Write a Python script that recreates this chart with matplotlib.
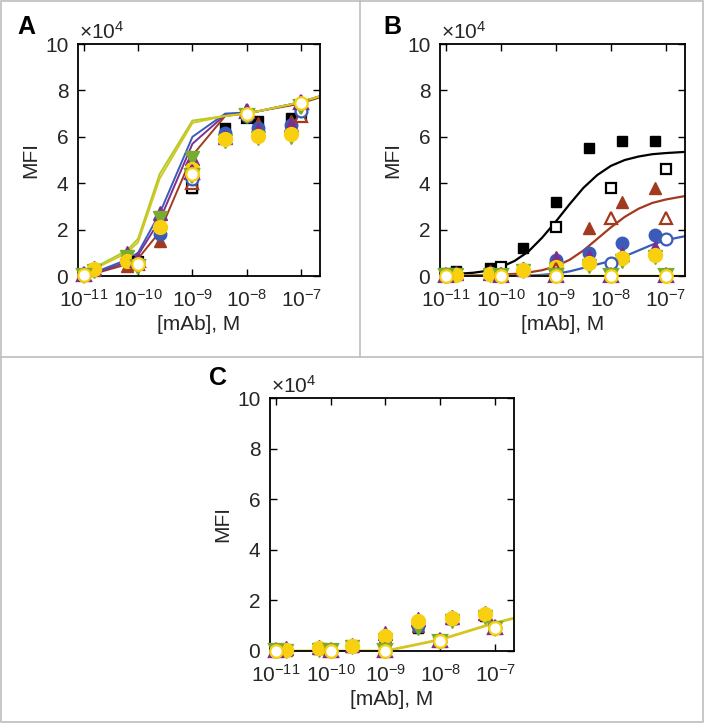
import numpy as np
import matplotlib.pyplot as plt
from matplotlib.lines import Line2D
from matplotlib.patches import Rectangle

plt.rcParams['font.family'] = ['Liberation Sans', 'DejaVu Sans']
plt.rcParams['mathtext.fontset'] = 'custom'
plt.rcParams['mathtext.rm'] = 'Liberation Sans'
plt.rcParams['mathtext.it'] = 'Liberation Sans'

# ---- concentrations (M) ----
x_filled = [1.5625e-11, 6.25e-11, 2.5e-10, 1e-9, 4e-9, 1.6e-8, 6.4e-8]
x_open = [1e-11, 1e-10, 1e-9, 1e-8, 1e-7]

# ---- colours ----
BLACK = '#000000'
BROWN = '#A23B1E'
BLUE = '#3A5BB8'
PURPLE = '#7E2F8E'
GREEN = '#77AC30'
YELLOW = '#F9D00F'
YLINE = '#D8C41E'
GLINE = '#A9CF2E'
TXT = '#262626'

# ---- panel A (MFI / 1e4) ----
a_black = [0.3, 0.7, 1.9, 3.8, 6.4, 6.7, 6.8]
a_brown = [0.25, 0.45, 1.5, 4.0, 6.1, 6.6, 6.7]
a_blue = [0.3, 0.7, 1.8, 4.3, 6.15, 6.4, 6.5]
a_purple = [0.35, 1.0, 2.7, 5.1, 6.0, 6.3, 6.5]
a_green = [0.2, 0.8, 2.5, 5.1, 5.8, 5.95, 6.0]
a_yellow = [0.3, 0.65, 2.1, 4.6, 5.9, 6.05, 6.1]
a_black_o = [0.05, 0.6, 3.8, 6.8, 7.0]
a_brown_o = [0.05, 0.5, 4.0, 7.1, 6.9]
a_blue_o = [0.05, 0.55, 4.2, 6.9, 7.1]
a_purple_o = [0.1, 0.7, 4.5, 7.1, 7.5]
a_green_o = [0.0, 0.4, 4.3, 6.9, 7.3]
a_yellow_o = [0.05, 0.5, 4.4, 7.0, 7.45]

a_fit_x = [1e-11, 1.5625e-11, 6.25e-11, 1e-10, 2.5e-10, 1e-9, 4e-9, 1e-8, 1.6e-8, 6.4e-8, 1e-7, 2.2e-7]
a_fit_brown = [0.03, 0.1, 0.5, 0.75, 1.9, 5.2, 6.9, 7.0, 7.1, 7.35, 7.45, 7.7]
a_fit_purple = [0.05, 0.12, 0.6, 0.9, 2.4, 5.7, 6.95, 7.0, 7.1, 7.4, 7.5, 7.75]
a_fit_blue = [0.05, 0.15, 0.7, 1.0, 2.7, 6.0, 7.0, 7.05, 7.1, 7.4, 7.5, 7.75]
a_fit_green = [0.1, 0.35, 1.1, 1.6, 4.4, 6.7, 6.9, 7.0, 7.1, 7.4, 7.5, 7.75]
a_fit_yellow = [0.1, 0.3, 1.0, 1.45, 4.2, 6.6, 6.9, 7.0, 7.1, 7.4, 7.5, 7.75]

# ---- panel B ----
b_black = [0.2, 0.35, 1.2, 3.2, 5.5, 5.8, 5.8]
b_brown = [0.15, 0.2, 0.35, 0.8, 2.05, 3.2, 3.8]
b_blue = [0.1, 0.15, 0.25, 0.7, 1.0, 1.42, 1.77]
b_purple = [0.15, 0.15, 0.3, 0.75, 0.8, 0.95, 1.2]
b_green = [0.05, 0.05, 0.2, 0.3, 0.45, 0.65, 0.8]
b_yellow = [0.05, 0.1, 0.25, 0.4, 0.56, 0.78, 0.9]
b_black_o = [0.1, 0.4, 2.1, 3.8, 4.6]
b_brown_o = [0.05, 0.1, 0.3, 2.5, 2.5]
b_blue_o = [0.0, 0.05, 0.05, 0.56, 1.6]
b_purple_o = [0.05, 0.05, 0.05, 0.05, 0.05]
b_green_o = [0.0, 0.0, 0.0, 0.0, 0.0]
b_yellow_o = [0.0, 0.0, 0.0, 0.0, 0.0]

b_fit_x = [7.9e-12, 1.78e-11, 3.16e-11, 5.62e-11, 1e-10, 1.78e-10, 3.16e-10, 5.62e-10,
           1e-9, 1.78e-9, 3.16e-9, 5.62e-9, 1e-8, 1.78e-8, 3.16e-8, 5.62e-8, 1e-7, 2.24e-7]
b_fit_black = [0.08, 0.1, 0.14, 0.22, 0.38, 0.65, 1.05, 1.65, 2.35, 3.1, 3.8, 4.35,
               4.75, 5.0, 5.15, 5.25, 5.3, 5.35]
b_fit_brown = [0.02, 0.02, 0.03, 0.04, 0.06, 0.09, 0.15, 0.25, 0.42, 0.7, 1.1, 1.6,
               2.1, 2.55, 2.9, 3.15, 3.3, 3.45]
b_fit_blue = [0.0, 0.0, 0.0, 0.0, 0.0, 0.01, 0.02, 0.05, 0.1, 0.2, 0.35, 0.5,
              0.65, 0.85, 1.1, 1.35, 1.55, 1.72]
b_fit_yellow = [0.0] * 18

# ---- panel C ----
c_black = [0.05, 0.1, 0.2, 0.5, 0.9, 1.25, 1.4]
c_brown = [0.05, 0.1, 0.2, 0.55, 1.0, 1.3, 1.45]
c_blue = [0.05, 0.1, 0.2, 0.55, 1.0, 1.3, 1.45]
c_purple = [0.1, 0.15, 0.25, 0.7, 1.25, 1.35, 1.5]
c_green = [0.0, 0.05, 0.15, 0.45, 0.9, 1.2, 1.35]
c_yellow = [0.05, 0.1, 0.2, 0.6, 1.2, 1.3, 1.45]
c_black_o = [0.0, 0.0, 0.0, 0.4, 0.9]
c_brown_o = [0.0, 0.0, 0.0, 0.4, 0.9]
c_blue_o = [0.0, 0.0, 0.0, 0.4, 0.9]
c_purple_o = [0.05, 0.05, 0.05, 0.45, 0.95]
c_green_o = [0.0, 0.0, 0.0, 0.35, 0.85]
c_yellow_o = [0.0, 0.0, 0.0, 0.4, 0.9]

c_fit_x = [1e-11, 1e-10, 1e-9, 1e-8, 8e-8, 2.2e-7]
c_fit_yellow = [0.0, 0.0, 0.0, 0.45, 1.05, 1.3]


def draw_panel(ax, filled, opened, fits):
    for xs, ys, c, lw in fits:
        ax.plot(xs, ys, '-', color=c, lw=lw, zorder=2)
    for ys, mk, c, ms in filled:
        ax.plot(x_filled, ys, mk, color=c, mfc=c, mec=c, ms=ms, ls='none',
                clip_on=False, zorder=3)
    for ys, mk, c, ms, face in opened:
        ax.plot(x_open, ys, mk, color=c, mfc=face, mec=c, mew=1.6, ms=ms,
                ls='none', clip_on=False, zorder=4)

    ax.set_xscale('log')
    ax.set_xlim(7.9e-12, 2.2e-7)
    ax.set_ylim(0, 10)
    ax.set_xticks([1e-11, 1e-10, 1e-9, 1e-8, 1e-7])
    ax.set_yticks([0, 2, 4, 6, 8, 10])
    ax.tick_params(which='both', direction='in', top=True, right=True,
                   labelsize=15, width=1.0, labelcolor=TXT)
    ax.tick_params(axis='x', which='major', length=5, pad=9)
    ax.tick_params(axis='y', which='major', length=5, pad=7)
    ax.tick_params(which='minor', length=3)
    for sp in ax.spines.values():
        sp.set_linewidth(1.3)
    ax.set_xlabel('[mAb], M', fontsize=15, labelpad=3, color=TXT)
    ax.set_ylabel('MFI', fontsize=15, labelpad=3, color=TXT)
    ax.text(0.005, 1.005, r'$\times$10$^4$', transform=ax.transAxes,
            ha='left', va='bottom', fontsize=15, color=TXT)


def marker_sets(d):
    filled = [
        (d[0], 's', BLACK, 7.5),
        (d[1], '^', BROWN, 9),
        (d[2], 'o', BLUE, 9),
        (d[3], '^', PURPLE, 9.5),
        (d[4], 'v', GREEN, 9.5),
        (d[5], 'o', YELLOW, 10),
    ]
    opened = [
        (d[6], 's', BLACK, 7.5, 'white'),
        (d[7], '^', BROWN, 9, 'white'),
        (d[8], 'o', BLUE, 8.5, 'white'),
        (d[9], '^', PURPLE, 9.5, PURPLE),
        (d[10], 'v', GREEN, 9.5, GREEN),
        (d[11], 'o', YELLOW, 9, 'white'),
    ]
    return filled, opened


fig = plt.figure(figsize=(7.04, 7.23), dpi=100)

axA = fig.add_axes([78 / 704, 1 - 276 / 723, 242 / 704, 232 / 723])
axB = fig.add_axes([440 / 704, 1 - 276 / 723, 245 / 704, 232 / 723])
axC = fig.add_axes([270 / 704, 1 - 651 / 723, 244 / 704, 253 / 723])

fA, oA = marker_sets([a_black, a_brown, a_blue, a_purple, a_green, a_yellow,
                      a_black_o, a_brown_o, a_blue_o, a_purple_o, a_green_o, a_yellow_o])
draw_panel(axA, fA, oA, [
    (a_fit_x, a_fit_brown, BROWN, 1.4),
    (a_fit_x, a_fit_purple, PURPLE, 1.4),
    (a_fit_x, a_fit_blue, BLUE, 1.4),
    (a_fit_x, a_fit_green, GLINE, 1.4),
    (a_fit_x, a_fit_yellow, YLINE, 1.4),
])

fB, oB = marker_sets([b_black, b_brown, b_blue, b_purple, b_green, b_yellow,
                      b_black_o, b_brown_o, b_blue_o, b_purple_o, b_green_o, b_yellow_o])
draw_panel(axB, fB, oB, [
    (b_fit_x, b_fit_black, BLACK, 1.6),
    (b_fit_x, b_fit_brown, BROWN, 1.6),
    (b_fit_x, b_fit_blue, BLUE, 1.6),
    (b_fit_x, b_fit_yellow, YLINE, 2.5),
])

fC, oC = marker_sets([c_black, c_brown, c_blue, c_purple, c_green, c_yellow,
                      c_black_o, c_brown_o, c_blue_o, c_purple_o, c_green_o, c_yellow_o])
draw_panel(axC, fC, oC, [
    (c_fit_x, c_fit_yellow, YLINE, 2.0),
])

# panel letters
fig.text(26 / 704, 1 - 27 / 723, 'A', fontsize=18, fontweight='bold', ha='center', va='center')
fig.text(392 / 704, 1 - 27 / 723, 'B', fontsize=18, fontweight='bold', ha='center', va='center')
fig.text(218 / 704, 1 - 378 / 723, 'C', fontsize=18, fontweight='bold', ha='center', va='center')

# panel frame lines
gray = '#BEBEBE'
fig.add_artist(Line2D([360 / 704, 360 / 704], [1 - 357 / 723, 1], color=gray, lw=1.2))
fig.add_artist(Line2D([0, 1], [1 - 357 / 723, 1 - 357 / 723], color=gray, lw=1.2))
fig.add_artist(Rectangle((0.001, 0.001), 0.998, 0.998, transform=fig.transFigure,
                         fill=False, ec=gray, lw=1.2))

fig.savefig('out.png', dpi=100)
